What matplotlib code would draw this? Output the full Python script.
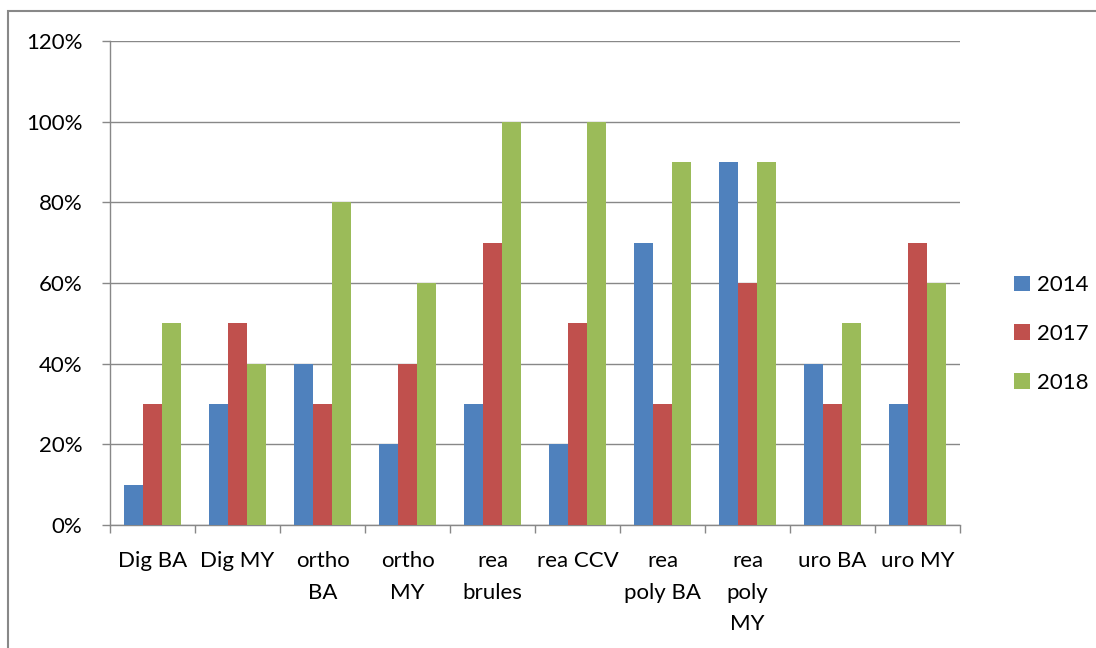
import numpy as np
import matplotlib.pyplot as plt
from matplotlib.patches import Rectangle
from matplotlib.ticker import PercentFormatter

plt.rcParams['font.family'] = ['Lato', 'DejaVu Sans']

# categories and values (fractions)
categories = ["Dig BA", "Dig MY", "ortho\nBA", "ortho\nMY", "rea\nbrules",
              "rea CCV", "rea\npoly BA", "rea\npoly\nMY", "uro BA", "uro MY"]
years = ["2014", "2017", "2018"]
v2014 = [0.10, 0.30, 0.40, 0.20, 0.30, 0.20, 0.70, 0.90, 0.40, 0.30]
v2017 = [0.30, 0.50, 0.30, 0.40, 0.70, 0.50, 0.30, 0.60, 0.30, 0.70]
v2018 = [0.50, 0.40, 0.80, 0.60, 1.00, 1.00, 0.90, 0.90, 0.50, 0.60]
colors = ["#4F81BD", "#C0504D", "#9BBB59"]

fig = plt.figure(figsize=(10.96, 6.48), dpi=100)
ax = fig.add_axes([0.1004, 0.1898, 0.7756, 0.7469])

x = np.arange(len(categories))
w = 0.224
for i, (vals, lab) in enumerate(zip([v2014, v2017, v2018], years)):
    ax.bar(x + (i - 1) * w, vals, w, color=colors[i], label=lab, zorder=3)

ax.set_xlim(-0.5, len(categories) - 0.5)
ax.set_ylim(0, 1.2)
ax.set_yticks(np.arange(0, 1.21, 0.2))
ax.yaxis.set_major_formatter(PercentFormatter(1.0, decimals=0))
ax.grid(axis='y', color='#888888', lw=1, zorder=0)

# category boundary ticks
ax.set_xticks(np.arange(-0.5, len(categories), 1))
ax.set_xticklabels([])
ax.set_xticks(x, minor=True)
ax.set_xticklabels(categories, minor=True, fontsize=16, linespacing=1.7)
ax.tick_params(axis='x', which='minor', length=0, pad=19)
ax.tick_params(axis='x', which='major', length=6, color='#888888', width=1)
ax.tick_params(axis='y', length=6, color='#888888', width=1, labelsize=16, pad=14)

for s in ['top', 'right']:
    ax.spines[s].set_visible(False)
for s in ['left', 'bottom']:
    ax.spines[s].set_color('#888888')
    ax.spines[s].set_linewidth(1)

ax.legend(loc='center left', bbox_to_anchor=(0.907, 0.4846), bbox_transform=fig.transFigure,
          frameon=False, fontsize=16, handlelength=0.7, handleheight=0.7,
          labelspacing=1.3, handletextpad=0.35)

# outer chart frame
fig.patches.append(Rectangle((8 / 1096, -0.1), 1.2, 1 - 11 / 648 + 0.1,
                             transform=fig.transFigure, fill=False,
                             edgecolor='#888888', lw=1.5))

plt.savefig('out.png', dpi=100)
